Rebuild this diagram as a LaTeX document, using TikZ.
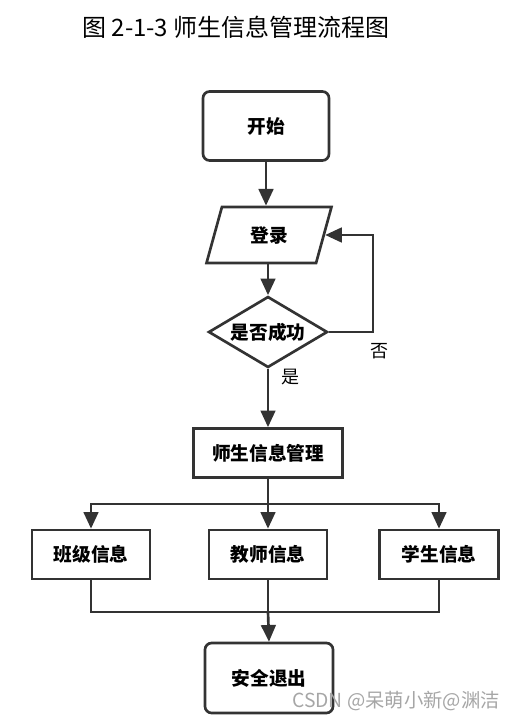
\documentclass[tikz,border=0pt]{standalone}
\usepackage{fontspec}
\setmainfont{Noto Sans CJK SC}
\usetikzlibrary{shapes.geometric,arrows.meta}
\definecolor{linegray}{HTML}{333333}
\begin{document}
\begin{tikzpicture}[x=0.75pt, y=-0.75pt,
  every node/.style={align=center, text=black},
  flow/.style={draw=linegray, line width=2pt, inner sep=0pt, font=\bfseries\fontsize{14}{16}\selectfont},
  flowline/.style={draw=linegray, line width=2pt},
  arrow/.style={flowline, -{Triangle[length=12.5pt,width=11pt]}}]
\useasboundingbox (0,0) rectangle (517,724);

\node (title) at (236,27) {\fontsize{18}{20}\selectfont 图 2-1-3 师生信息管理流程图};

\node (start) [flow, rounded corners=5pt, minimum width=94.5pt, minimum height=51.75pt] at (266,126) {开始};
\node (login) [flow, trapezium, trapezium left angle=71, trapezium right angle=109, trapezium stretches=true, minimum width=93.75pt, minimum height=42pt] at (269,235) {登录};
\node (check) [flow, diamond, aspect=1.7, minimum width=89.25pt, minimum height=53.25pt] at (268,332) {是否成功};
\node (manage) [flow, minimum width=111.75pt, minimum height=36.75pt] at (268,453) {师生信息管理};
\node (class) [flow, minimum width=88.5pt, minimum height=36.75pt] at (91,554.5) {班级信息};
\node (teacher) [flow, minimum width=88.5pt, minimum height=36.75pt] at (268,554.5) {教师信息};
\node (student) [flow, minimum width=89.25pt, minimum height=36.75pt] at (439,554.5) {学生信息};
\node (exit) [flow, rounded corners=5pt, minimum width=96pt, minimum height=52.5pt] at (269,678) {安全退出};

\coordinate (turn) at (373,332);
\coordinate (split) at (268,504);
\coordinate (merge) at (268,612);

\draw[arrow] (start.south) -- (start.south |- login.north);
\draw[arrow] (login.south -| check.north) -- (check.north);
\draw[arrow] (check.east) -- (turn) |- (login.east);
\node (no) at (379,351) {\fontsize{13.5}{15}\selectfont 否};
\draw[arrow] (check.south) -- (manage.north);
\node (yes) at (290,377) {\fontsize{13.5}{15}\selectfont 是};

\draw[flowline] (manage.south) -- (split);
\draw[arrow] (split) -| (class.north);
\draw[arrow] (split) -| (student.north);
\draw[arrow] (split) -- (teacher.north);

\draw[flowline] (class.south) |- (merge) -| (student.south);
\draw[flowline] (teacher.south) -- (merge);
\draw[arrow] (merge) -- (exit.north);

\node (mark) [text=gray!70] at (396,701) {\fontsize{14.5}{16}\selectfont CSDN @呆萌小新@渊洁};
\end{tikzpicture}
\end{document}
